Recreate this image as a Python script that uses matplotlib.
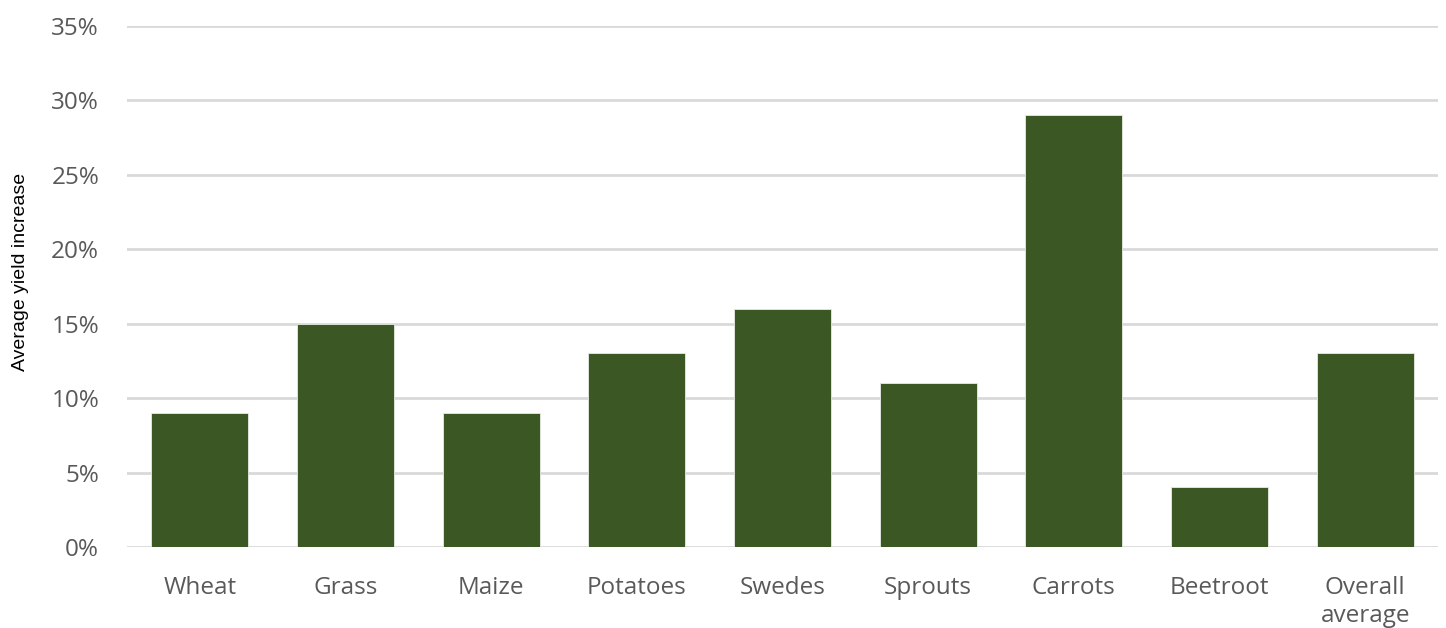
import matplotlib.pyplot as plt
from matplotlib.ticker import PercentFormatter

crops = ["Wheat", "Grass", "Maize", "Potatoes", "Swedes", "Sprouts",
         "Carrots", "Beetroot", "Overall\naverage"]
increase = [9, 15, 9, 13, 16, 11, 29, 4, 13]
y_ticks = [0, 5, 10, 15, 20, 25, 30, 35]

fig = plt.figure(figsize=(14.46, 6.28), dpi=100)
ax = fig.add_axes([0.0878, 0.129, 0.9067, 0.8296])

ax.bar(range(len(crops)), increase, width=0.667, color="#3b5724",
       edgecolor="#e8ece4", linewidth=0.6, zorder=3)

ax.set_xlim(-0.5, len(crops) - 0.5)
ax.set_ylim(0, 35)
ax.set_yticks(y_ticks)
ax.yaxis.set_major_formatter(PercentFormatter(decimals=0))
ax.set_xticks(range(len(crops)))
ax.set_xticklabels(crops, linespacing=1.2)

ax.grid(axis="y", color="#d9d9d9", linewidth=2, zorder=0)
for s in ax.spines.values():
    s.set_visible(False)
ax.tick_params(axis="both", length=0, labelsize=17.5, labelcolor="#595959")
ax.tick_params(axis="x", pad=21)
ax.tick_params(axis="y", pad=20)
for lbl in ax.get_xticklabels() + ax.get_yticklabels():
    lbl.set_fontfamily("Open Sans")

ax.set_ylabel("Average yield increase", fontsize=14, family="Liberation Sans")
ax.yaxis.set_label_coords(-0.075, 0.528)

fig.savefig("out.png", dpi=100)
